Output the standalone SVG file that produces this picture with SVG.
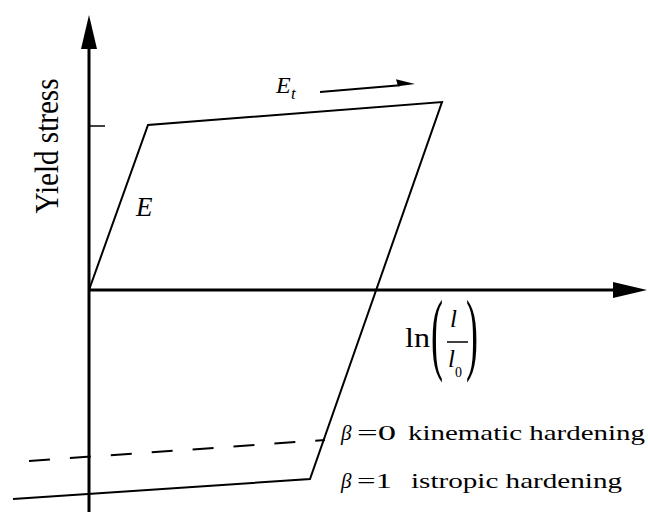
<svg xmlns="http://www.w3.org/2000/svg" width="648" height="512" viewBox="0 0 648 512">
  <style>
    .axis { stroke: #000; stroke-width: 3; fill: none; }
    .curve { stroke: #000; stroke-width: 2; fill: none; stroke-linejoin: miter; }
    .dash { stroke: #000; stroke-width: 2; fill: none; stroke-dasharray: 21 20; }
    .thin { stroke: #000; stroke-width: 1.5; fill: none; }
    .t { font-family: "Liberation Serif", "Times New Roman", serif; fill: #000; }
    .it { font-family: "Liberation Serif", "Times New Roman", serif; font-style: italic; fill: #000; }
  </style>
  <defs>
    <marker id="axisHead" markerUnits="userSpaceOnUse" viewBox="0 0 34 16" refX="0" refY="8" markerWidth="34" markerHeight="16" orient="auto">
      <path d="M0,0 L34,8 L0,16 Z" fill="#000"/>
    </marker>
  </defs>
  <rect width="648" height="512" fill="#fff"/>

  <g id="connectors">
    <line id="y-axis" class="axis" x1="89" y1="512" x2="89" y2="49" marker-end="url(#axisHead)"/>
    <line id="x-axis" class="axis" x1="89" y1="290" x2="613" y2="290" marker-end="url(#axisHead)"/>
    <line class="thin" x1="89" y1="126" x2="105" y2="126"/>
    <polyline id="loop" class="curve" points="89,290 148,125 442,102 310,479 13,499"/>
    <line id="kinematic" class="dash" x1="29" y1="461" x2="325" y2="440"/>
    <line class="curve" x1="320" y1="92" x2="400" y2="85.3"/>
    <polygon points="415,84 396,79.3 398,86.2" fill="#000"/>
  </g>

  <g id="label-yield">
    <text class="t" font-size="28" text-anchor="middle" textLength="135" lengthAdjust="spacingAndGlyphs" transform="translate(58,146) rotate(-90) scale(1,1.2)">Yield stress</text>
  </g>

  <g id="label-E">
    <text class="it" x="136" y="216" font-size="27">E</text>
  </g>

  <g id="label-Et">
    <text class="it" x="276" y="93" font-size="24">E<tspan x="291" y="99" font-size="17">t</tspan></text>
  </g>

  <g id="label-ln">
    <text class="t" x="405" y="347" font-size="27" textLength="25" lengthAdjust="spacingAndGlyphs">ln</text>
    <text class="t" font-size="90" transform="translate(431,363) scale(0.4,1)">(</text>
    <text class="it" x="450" y="327" font-size="25">l</text>
    <line class="thin" x1="447" y1="342" x2="468" y2="342"/>
    <text class="it" x="448" y="367" font-size="25">l<tspan x="455" y="377" font-style="normal" font-size="14">0</tspan></text>
    <text class="t" font-size="90" transform="translate(466,363) scale(0.4,1)">)</text>
  </g>

  <g id="legend-kinematic">
    <text class="t" y="440" font-size="21"><tspan class="it" x="341">β</tspan><tspan x="357" textLength="39" lengthAdjust="spacingAndGlyphs">=0</tspan><tspan x="408" textLength="237" lengthAdjust="spacingAndGlyphs">kinematic hardening</tspan></text>
  </g>

  <g id="legend-isotropic">
    <text class="t" y="488" font-size="21"><tspan class="it" x="341">β</tspan><tspan x="357" textLength="35" lengthAdjust="spacingAndGlyphs">=1</tspan><tspan x="411" textLength="211" lengthAdjust="spacingAndGlyphs">istropic hardening</tspan></text>
  </g>
</svg>
